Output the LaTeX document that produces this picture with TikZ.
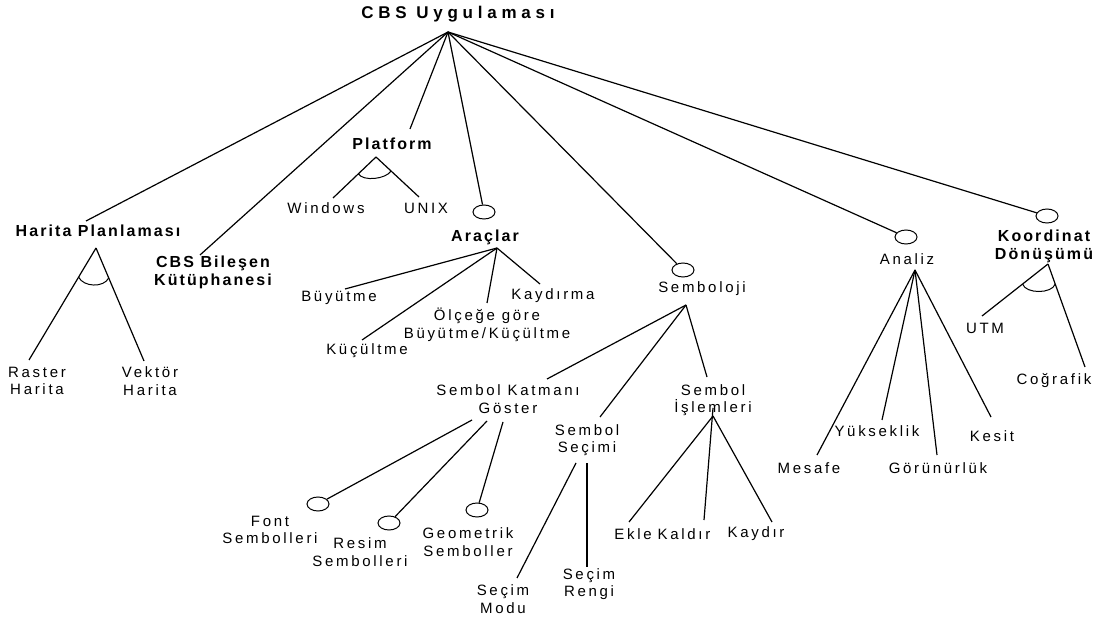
\documentclass[tikz,border=0pt]{standalone}
\usepackage{fontspec}
\setmainfont{Liberation Sans}
\newfontfamily\lblfont[LetterSpace=18]{Liberation Sans}
\newfontfamily\ttlfont[LetterSpace=28]{Liberation Sans}
\newfontfamily\hdfont[LetterSpace=13]{Liberation Sans}
\usetikzlibrary{shapes.geometric,calc}
\begin{document}
\begin{tikzpicture}[x=1pt,y=-1pt,
  lbl/.style={inner sep=0pt,outer sep=0pt,align=center,font=\lblfont\fontsize{15}{17.5}\selectfont},
  hd/.style={inner sep=0pt,outer sep=0pt,align=center,font=\hdfont\bfseries\fontsize{16}{18}\selectfont},
  ttl/.style={inner sep=0pt,outer sep=0pt,font=\ttlfont\bfseries\fontsize{17}{20}\selectfont},
  opt/.style={draw,ellipse,minimum width=22pt,minimum height=14pt,inner sep=0pt,line width=1pt},
  conn/.style={line width=1.2pt},
  arcl/.style={line width=1pt}
]
\fill[white] (0,0) rectangle (1097,617);
\useasboundingbox (0,0) rectangle (1097,617);

% title
\node[ttl] (title) at (458,14) {CBS Uygulaması};
\coordinate (r) at ([shift={(-10,18)}]title.center);

% headings
\node[hd] (hp) at (98,231) {Harita Planlaması};
\node[hd] (cbs) at (213,272) {CBS Bileşen\\Kütüphanesi};
\node[hd] (plat) at (392,144) {Platform};
\node[hd] (ara) at (485,237) {Araçlar};
\node[hd] (koor) at (1044,246) {Koordinat\\Dönüşümü};

% labels
\node[lbl] (raster) at (37,381) {Raster\\Harita};
\node[lbl] (vektor) at (150,381) {Vektör\\Harita};
\node[lbl] (win) at (326,208) {Windows};
\node[lbl] (unix) at (426,208) {UNIX};
\node[lbl] (buy) at (339,298) {Büyütme};
\node[lbl] (kayd) at (553,296) {Kaydırma};
\node[lbl] (olc) at (487,325) {Ölçeğe göre\\Büyütme/Küçültme};
\node[lbl] (kuc) at (367,351) {Küçültme};
\node[lbl] (semb) at (702,289) {Semboloji};
\node[lbl] (skat) at (508,399) {Sembol Katmanı\\Göster};
\node[lbl] (sisl) at (713,400) {Sembol\\İşlemleri};
\node[lbl] (ssec) at (587,440) {Sembol\\Seçimi};
\node[lbl] (fnt) at (270,530) {Font\\Sembolleri};
\node[lbl] (resim) at (360,552) {Resim\\Sembolleri};
\node[lbl] (geo) at (468,542) {Geometrik\\Semboller};
\node[lbl] (smod) at (503,599) {Seçim\\Modu};
\node[lbl] (sren) at (589,584) {Seçim\\Rengi};
\node[lbl] (ekle) at (633,534) {Ekle};
\node[lbl] (kaldir) at (684,534) {Kaldır};
\node[lbl] (kaydir) at (756,534) {Kaydır};
\node[lbl] (ana) at (907,259) {Analiz};
\node[lbl] (mes) at (809,468) {Mesafe};
\node[lbl] (yuk) at (877,431) {Yükseklik};
\node[lbl] (gor) at (938,468) {Görünürlük};
\node[lbl] (kes) at (992,436) {Kesit};
\node[lbl] (utm) at (985,328) {UTM};
\node[lbl] (cog) at (1054,381) {Coğrafik};

% optional markers
\node[opt] (araO) at (484,212) {};
\node[opt] (sembO) at (683,270) {};
\node[opt] (anaO) at (906,237) {};
\node[opt] (koorO) at (1047,216) {};
\node[opt] (fntO) at (318,504) {};
\node[opt] (resimO) at (389,523) {};
\node[opt] (geoO) at (477,510) {};

% apexes
\coordinate (hpA) at ([shift={(-2,17)}]hp.center);
\coordinate (platA) at ([shift={(-16,13)}]plat.center);
\coordinate (araA) at ([shift={(12,11)}]ara.center);
\coordinate (sembA) at ([shift={(-16,16)}]semb.center);
\coordinate (sislA) at ([shift={(0,16)}]sisl.center);
\coordinate (sislT) at ([shift={(0,8)}]sisl.center);
\coordinate (anaA) at ([shift={(8,11)}]ana.center);
\coordinate (koorA) at ([shift={(4,18)}]koor.center);

% root connectors
\draw[conn] (r) -- ([shift={(-12,-10)}]hp.center);
\draw[conn] (r) -- ([shift={(-13,-17)}]cbs.center);
\draw[conn] (r) -- ([shift={(18,-15)}]plat.center);
\draw[conn] (r) -- (araO);
\draw[conn] (r) -- (sembO);
\draw[conn] (r) -- (anaO);
\draw[conn] (r) -- (koorO);

% Harita Planlamasi (alternative)
\draw[conn] (hpA) -- ([shift={(-8,-21)}]raster.center) coordinate (hpL);
\draw[conn] (hpA) -- ([shift={(-6,-20)}]vektor.center) coordinate (hpR);
\draw[arcl] ($(hpA)!0.26!(hpL)$) .. controls +(5,10) and +(-5,10) .. ($(hpA)!0.265!(hpR)$);

% Platform (alternative)
\draw[conn] (platA) -- ([shift={(7,-10)}]win.center) coordinate (plL);
\draw[conn] (platA) -- ([shift={(-7,-11)}]unix.center) coordinate (plR);
\draw[arcl] ($(platA)!0.41!(plL)$) .. controls +(5,8) and +(-5,8) .. ($(platA)!0.35!(plR)$);

% Araclar
\draw[conn] (araA) -- ([shift={(6,-9)}]buy.center);
\draw[conn] (araA) -- ([shift={(-5,-11)}]kuc.center);
\draw[conn] (araA) -- ([shift={(0,-22)}]olc.center);
\draw[conn] (araA) -- ([shift={(-13,-12)}]kayd.center);

% Semboloji
\draw[conn] (sembA) -- ([shift={(39,-20)}]skat.center);
\draw[conn] (sembA) -- ([shift={(13,-23)}]ssec.center);
\draw[conn] (sembA) -- ([shift={(-6,-23)}]sisl.center);

% Sembol Katmani Goster
\draw[conn] ([shift={(-36,21)}]skat.center) -- (fntO);
\draw[conn] ([shift={(-21,22)}]skat.center) -- (resimO);
\draw[conn] ([shift={(-5,23)}]skat.center) -- (geoO);

% Sembol Secimi
\draw[conn] ([shift={(-11,23)}]ssec.center) -- ([shift={(14,-21)}]smod.center);
\draw[conn] ([shift={(0,23)}]ssec.center) -- ([shift={(-2,-17)}]sren.center);

% Sembol Islemleri
\draw[conn] (sislA) -- ([shift={(-4,-12)}]ekle.center);
\draw[conn] (sislT) -- ([shift={(20,-14)}]kaldir.center);
\draw[conn] (sislA) -- ([shift={(16,-12)}]kaydir.center);

% Analiz
\draw[conn] (anaA) -- ([shift={(8,-13)}]mes.center);
\draw[conn] (anaA) -- ([shift={(5,-11)}]yuk.center);
\draw[conn] (anaA) -- ([shift={(-1,-13)}]gor.center);
\draw[conn] (anaA) -- ([shift={(-1,-19)}]kes.center);

% Koordinat Donusumu (alternative)
\draw[conn] (koorA) -- ([shift={(-3,-12)}]utm.center) coordinate (koL);
\draw[conn] (koorA) -- ([shift={(31,-14)}]cog.center) coordinate (koR);
\draw[arcl] ($(koorA)!0.385!(koL)$) .. controls +(3,10) and +(-3,10) .. ($(koorA)!0.194!(koR)$);
\end{tikzpicture}
\end{document}
